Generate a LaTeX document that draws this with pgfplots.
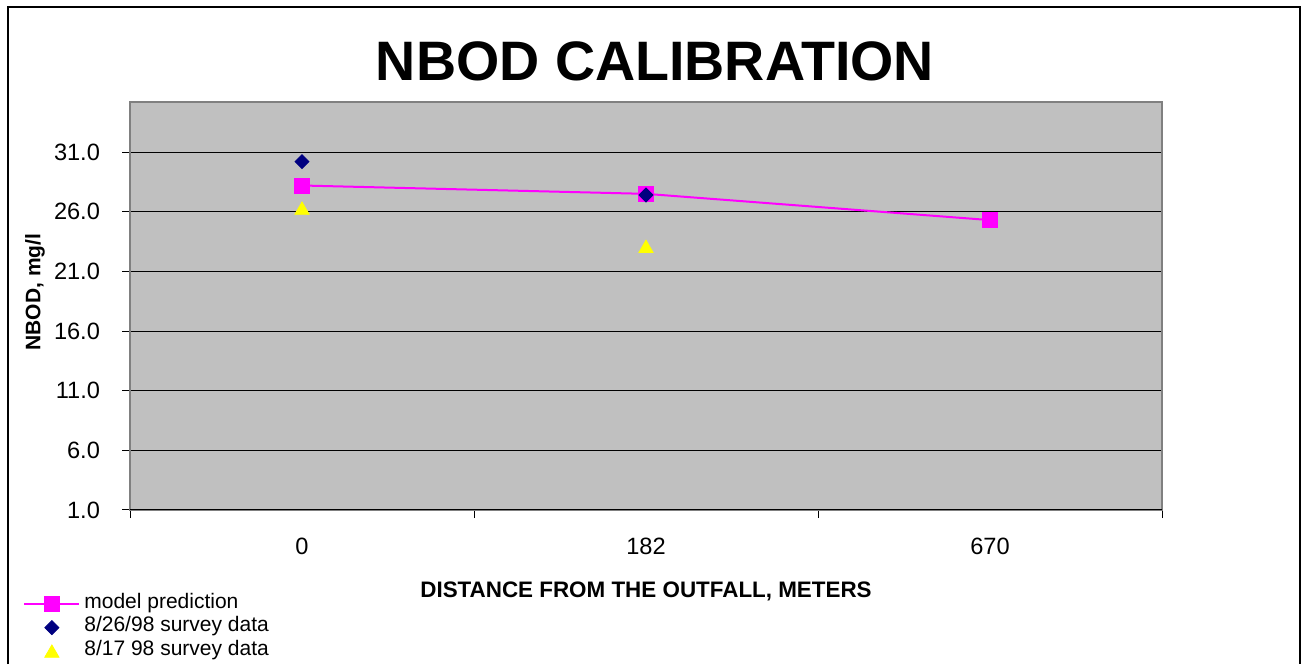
\documentclass[border=0pt]{standalone}
\usepackage{fontspec}
\setmainfont{Liberation Sans}
\usepackage{pgfplots}
\pgfplotsset{compat=1.18}
\definecolor{plotbg}{RGB}{192,192,192}
\definecolor{navyblue}{RGB}{0,0,128}
\definecolor{mag}{RGB}{255,0,255}
\definecolor{yel}{RGB}{255,255,0}
\pgfplotsset{
  lineleg/.style={legend image code/.code={\draw[mark repeat=2,mark phase=2,##1] plot coordinates {(0pt,0pt) (13.75pt,0pt) (27.5pt,0pt)}; \path (29.5pt,0pt);}},
  markleg/.style={legend image code/.code={\draw[##1, only marks] plot coordinates {(13.75pt,0pt)}; \path (0pt,0pt) (29.5pt,0pt);}},
}
\begin{document}
\begin{tikzpicture}
\useasboundingbox (0,0) rectangle (653pt,332pt);
\fill[white] (0,0) rectangle (653pt,332pt);
\draw[line width=1pt] (4pt,0pt) -- (4pt,328.5pt) -- (649.75pt,328.5pt) -- (649.75pt,0pt);
\begin{axis}[
  at={(65pt,77pt)}, anchor=south west,
  scale only axis, width=516pt, height=204pt,
  xmin=-0.5, xmax=2.5, ymin=1, ymax=35.2,
  axis background/.style={fill=plotbg},
  axis line style={draw=gray, line width=0.75pt},
  xtick={0,1,2}, xticklabels={0,182,670},
  minor xtick={-0.5,0.5,1.5,2.5},
  ytick={1,6,11,16,21,26,31},
  tick align=outside, tick pos=left,
  major tick length=4pt, minor tick length=4pt,
  major x tick style={draw=none},
  tick style={black, line width=0.5pt},
  ymajorgrids, major grid style={black, line width=0.5pt},
  /pgf/number format/assume math mode=true,
  yticklabel style={/pgf/number format/fixed, /pgf/number format/fixed zerofill, /pgf/number format/precision=1, xshift=-7.5pt},
  ticklabel style={font=\fontsize{11.8}{14}\selectfont},
  xticklabel style={yshift=-6.5pt},
  title={NBOD CALIBRATION},
  title style={at={(axis description cs:0.5087,1.071)}, anchor=center, font=\bfseries\fontsize{27.8}{30}\selectfont},
  xlabel={DISTANCE FROM THE OUTFALL, METERS},
  xlabel style={at={(axis description cs:0.5,-0.199)}, anchor=center, font=\bfseries\fontsize{11.2}{13}\selectfont},
  ylabel={NBOD, mg/l},
  ylabel style={at={(axis description cs:-0.092,0.534)}, anchor=center, font=\bfseries\fontsize{10.5}{12}\selectfont},
  legend style={at={(axis description cs:-0.1037,-0.201)}, anchor=north west, draw=none, fill=none, inner sep=0pt, row sep=0pt, column sep=0pt, font=\fontsize{10.5}{12}\selectfont, nodes={inner sep=0pt, text height=8pt, text depth=3.75pt}},
  legend cell align=left,
]
\addplot[mag, line width=1pt, mark=square*, mark size=3.5pt, mark options={solid, fill=mag, draw=mag}, lineleg]
  coordinates {(0,28.2) (1,27.5) (2,25.3)};
\addlegendentry{model prediction}
\addplot[navyblue, only marks, mark=square*, mark size=2.47pt, mark options={rotate=45, fill=navyblue, draw=navyblue}, markleg]
  coordinates {(0,30.2) (1,27.4)};
\addlegendentry{8/26/98 survey data}
\addplot[yel, only marks, mark=triangle*, mark size=4.1pt, mark options={fill=yel, draw=yel, yshift=-1pt}, markleg]
  coordinates {(0,26.3) (1,23.1)};
\addlegendentry{8/17 98 survey data}
\draw[black, line width=0.75pt] (rel axis cs:0,0) -- (rel axis cs:1,0);
\end{axis}
\end{tikzpicture}
\end{document}
